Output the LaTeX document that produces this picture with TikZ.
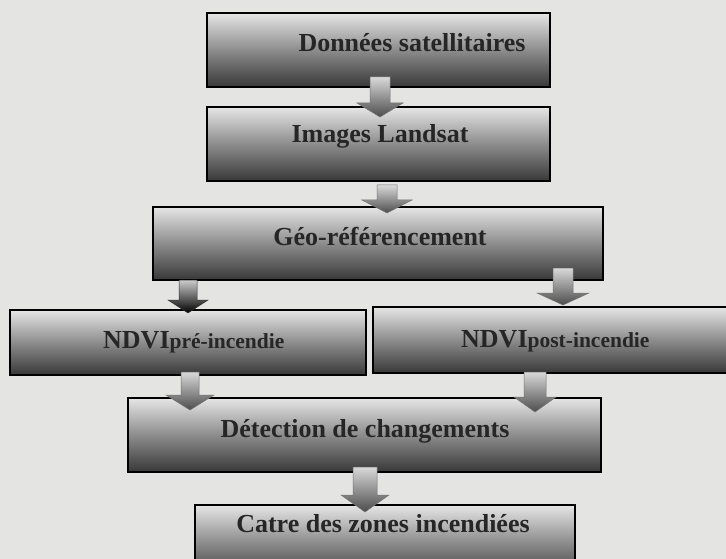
\documentclass[tikz,border=0pt]{standalone}
\usepackage{fontspec}
\setmainfont{Liberation Serif}
\definecolor{bg}{HTML}{E4E4E2}
\definecolor{ink}{HTML}{262626}
\tikzset{
  box/.style={draw=black, line width=1.1pt, top color=black!10, bottom color=black!78, middle color=black!45, inner sep=0pt},
  lbl/.style={font=\bfseries\fontsize{26}{30}\selectfont, text=ink, anchor=base, inner sep=0pt},
  arr/.style={top color=black!15, bottom color=black!70, draw=black!55, line width=0.5pt},
  darr/.style={top color=black!20, bottom color=black, draw=black!80, line width=0.5pt}
}
\newcommand\smallsub[1]{{\fontsize{21.5}{26}\selectfont #1}}
\newcommand\blockarr[7]{%
  \path[#1] ({#2-#6},#3) -- ({#2+#6},#3) -- ({#2+#6},#4) -- ({#2+#7},#4)
     -- (#2,#5) -- ({#2-#7},#4) -- ({#2-#6},#4) -- cycle;}
\begin{document}
\begin{tikzpicture}[x=1pt,y=-1pt]
  \useasboundingbox (0,0) rectangle (726,559);
  \clip (0,0) rectangle (726,559);
  \fill[bg] (0,0) rectangle (726,559);
  % boxes
  \node[box, minimum width=343pt, minimum height=74pt] (b1) at (378.5,50) {};
  \node[box, minimum width=343pt, minimum height=74pt] (b2) at (378.5,144) {};
  \node[box, minimum width=450pt, minimum height=73pt] (b3) at (378,243.5) {};
  \node[box, minimum width=356pt, minimum height=65pt] (b4) at (188,342.5) {};
  \node[box, minimum width=367pt, minimum height=66pt] (b5) at (556.5,340) {};
  \node[box, minimum width=473pt, minimum height=74pt] (b6) at (364.5,435) {};
  \node[box, minimum width=380pt, minimum height=75pt] (b7) at (385,542.5) {};
  % labels
  \node[lbl] (t1) at (412,52) {Données satellitaires};
  \node[lbl] (t2) at (380,143) {Images Landsat};
  \node[lbl] (t3) at (380,245) {Géo-référencement};
  \node[lbl, anchor=base west] (t4) at (103,348) {NDVI\smallsub{pré-incendie}};
  \node[lbl, anchor=base west] (t5) at (461,347) {NDVI\smallsub{post-incendie}};
  \node[lbl] (t6) at (365,437) {Détection de changements};
  \node[lbl] (t7) at (383,532) {Catre des zones incendiées};
  % block arrows
  \blockarr{arr}{380}{77}{103}{117}{10}{23}
  \blockarr{arr}{387}{185}{200}{213}{10}{25}
  \blockarr{darr}{188}{280}{300}{313}{9}{20}
  \blockarr{arr}{563}{268}{293}{305}{10}{26}
  \blockarr{arr}{190}{372}{395}{410}{9}{24}
  \blockarr{arr}{535}{372}{397}{412}{11}{21}
  \blockarr{arr}{365}{467}{495}{512}{12}{24}
\end{tikzpicture}
\end{document}
